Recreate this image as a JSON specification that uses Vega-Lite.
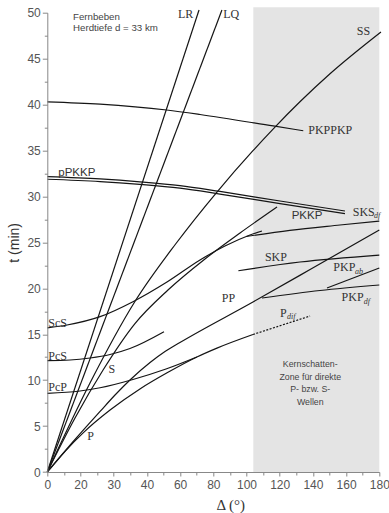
{
  "$schema": "https://vega.github.io/schema/vega-lite/v6.json",
  "width": 332,
  "height": 459.3,
  "autosize": {"type": "none"},
  "padding": {"left": 47.3, "top": 12.7, "right": 9.7, "bottom": 41},
  "background": "white",
  "config": {"view": {"stroke": null}, "axis": {"grid": false}},
  "datasets": {
    "zone": [{"x": 104.1, "x2": 180, "t": 0, "t2": 50.6}],
    "curves": [
      {"curve": "LR", "x": 0, "t": 0}, {"curve": "LR", "x": 71.4, "t": 50.3},
      {"curve": "LQ", "x": 0, "t": 0}, {"curve": "LQ", "x": 85.2, "t": 50.3},
      {"curve": "SS", "x": 0, "t": 0}, {"curve": "SS", "x": 22.86, "t": 9.69}, {"curve": "SS", "x": 36.3, "t": 18.51}, {"curve": "SS", "x": 57.3, "t": 24.82}, {"curve": "SS", "x": 82.2, "t": 30.48}, {"curve": "SS", "x": 103.9, "t": 34.98}, {"curve": "SS", "x": 116.0, "t": 37.33}, {"curve": "SS", "x": 132.2, "t": 40.3}, {"curve": "SS", "x": 150.3, "t": 43.35}, {"curve": "SS", "x": 181, "t": 47.9},
      {"curve": "S", "x": 0, "t": 0}, {"curve": "S", "x": 16.7, "t": 5.88}, {"curve": "S", "x": 26.8, "t": 11.1}, {"curve": "S", "x": 36.4, "t": 16.15}, {"curve": "S", "x": 52.7, "t": 19.81}, {"curve": "S", "x": 75.0, "t": 23.19}, {"curve": "S", "x": 96.1, "t": 26.02}, {"curve": "S", "x": 118.4, "t": 28.85},
      {"curve": "ScS", "x": 0, "t": 15.68}, {"curve": "ScS", "x": 11.9, "t": 16.0}, {"curve": "ScS", "x": 25.9, "t": 16.91}, {"curve": "ScS", "x": 35.8, "t": 18.54}, {"curve": "ScS", "x": 52.1, "t": 20.68}, {"curve": "ScS", "x": 72.0, "t": 23.08}, {"curve": "ScS", "x": 87.0, "t": 24.6}, {"curve": "ScS", "x": 102.1, "t": 25.8}, {"curve": "ScS", "x": 109.3, "t": 26.24},
      {"curve": "SKSdf", "x": 99.7, "t": 25.64}, {"curve": "SKSdf", "x": 126.1, "t": 26.31}, {"curve": "SKSdf", "x": 156.3, "t": 26.89}, {"curve": "SKSdf", "x": 180, "t": 27.32},
      {"curve": "PcS", "x": 0, "t": 12.12}, {"curve": "PcS", "x": 13.7, "t": 12.19}, {"curve": "PcS", "x": 22.9, "t": 12.41}, {"curve": "PcS", "x": 28.9, "t": 12.79}, {"curve": "PcS", "x": 34.9, "t": 13.44}, {"curve": "PcS", "x": 50.3, "t": 15.27},
      {"curve": "PcP", "x": 0, "t": 8.57}, {"curve": "PcP", "x": 19.7, "t": 8.82}, {"curve": "PcP", "x": 25.9, "t": 9.17}, {"curve": "PcP", "x": 35.8, "t": 10.07}, {"curve": "PcP", "x": 51.5, "t": 11.21}, {"curve": "PcP", "x": 70.1, "t": 12.52},
      {"curve": "P", "x": 0, "t": 0}, {"curve": "P", "x": 10.84, "t": 2.28}, {"curve": "P", "x": 20.8, "t": 4.26}, {"curve": "P", "x": 28.9, "t": 6.74}, {"curve": "P", "x": 37.9, "t": 9.04}, {"curve": "P", "x": 52.7, "t": 10.85}, {"curve": "P", "x": 70.1, "t": 12.52}, {"curve": "P", "x": 82.2, "t": 13.49}, {"curve": "P", "x": 103.9, "t": 14.97},
      {"curve": "Pdif", "x": 103.9, "t": 14.97}, {"curve": "Pdif", "x": 138.3, "t": 16.98},
      {"curve": "PP", "x": 0, "t": 0}, {"curve": "PP", "x": 16.7, "t": 3.54}, {"curve": "PP", "x": 25.9, "t": 6.59}, {"curve": "PP", "x": 30.4, "t": 8.38}, {"curve": "PP", "x": 34.9, "t": 10.02}, {"curve": "PP", "x": 41.9, "t": 11.92}, {"curve": "PP", "x": 50.9, "t": 13.12}, {"curve": "PP", "x": 59.9, "t": 14.1}, {"curve": "PP", "x": 103.9, "t": 18.51}, {"curve": "PP", "x": 138.3, "t": 22.04}, {"curve": "PP", "x": 180, "t": 26.35},
      {"curve": "SKP", "x": 95.1, "t": 21.91}, {"curve": "SKP", "x": 132.2, "t": 22.86}, {"curve": "SKP", "x": 180, "t": 23.62},
      {"curve": "PKPdf", "x": 109.3, "t": 18.94}, {"curve": "PKPdf", "x": 144.3, "t": 19.76}, {"curve": "PKPdf", "x": 180, "t": 20.36},
      {"curve": "PKPab", "x": 148.5, "t": 20.03}, {"curve": "PKPab", "x": 180, "t": 22.21},
      {"curve": "pPKKP", "x": 0, "t": 32.15}, {"curve": "pPKKP", "x": 25.9, "t": 31.9}, {"curve": "pPKKP", "x": 37.9, "t": 31.59}, {"curve": "pPKKP", "x": 59.9, "t": 31.18}, {"curve": "pPKKP", "x": 84.0, "t": 30.54}, {"curve": "pPKKP", "x": 120.2, "t": 29.5}, {"curve": "pPKKP", "x": 159.3, "t": 28.41},
      {"curve": "PKKP", "x": 0, "t": 31.87}, {"curve": "PKKP", "x": 25.9, "t": 31.62}, {"curve": "PKKP", "x": 37.9, "t": 31.31}, {"curve": "PKKP", "x": 59.9, "t": 30.9}, {"curve": "PKKP", "x": 84.0, "t": 30.26}, {"curve": "PKKP", "x": 120.2, "t": 29.22}, {"curve": "PKKP", "x": 159.3, "t": 28.13},
      {"curve": "PKPPKP", "x": 0, "t": 40.3}, {"curve": "PKPPKP", "x": 25.9, "t": 40.05}, {"curve": "PKPPKP", "x": 51.9, "t": 39.41}, {"curve": "PKPPKP", "x": 72.0, "t": 38.92}, {"curve": "PKPPKP", "x": 116.1, "t": 37.67}, {"curve": "PKPPKP", "x": 134.2, "t": 37.15}
    ],
    "serifLabels": [
      {"label": "LR", "x": 58.7, "t": 49.85}, {"label": "LQ", "x": 86.0, "t": 49.85},
      {"label": "SS", "x": 166.4, "t": 48.0}, {"label": "PKPPKP", "x": 137.2, "t": 37.23},
      {"label": "ScS", "x": 0.6, "t": 16.17}, {"label": "PcS", "x": 0.6, "t": 12.65}, {"label": "PcP", "x": 0.6, "t": 9.2},
      {"label": "S", "x": 28.4, "t": 11.19}, {"label": "P", "x": 22.05, "t": 3.97}, {"label": "PP", "x": 85.1, "t": 18.9},
      {"label": "SKP", "x": 111.1, "t": 23.4}, {"label": "SKS", "x": 164.0, "t": 28.3},
      {"label": "PKP", "x": 152.3, "t": 22.3}, {"label": "PKP", "x": 157.3, "t": 19.0}, {"label": "P", "x": 120.2, "t": 17.3}
    ],
    "subLabels": [
      {"label": "df", "x": 176.8, "t": 27.87}, {"label": "ab", "x": 165.4, "t": 21.75},
      {"label": "df", "x": 170.6, "t": 18.54}, {"label": "dif", "x": 124.4, "t": 16.9}
    ],
    "sansLabels": [
      {"label": "pPKKP", "x": 6.63, "t": 32.6}, {"label": "PKKP", "x": 127.2, "t": 27.89}
    ],
    "notes": [
      {"label": "Fernbeben", "x": 15.5, "t": 49.56}, {"label": "Herdtiefe d = 33 km", "x": 15.5, "t": 48.3}
    ],
    "zoneNotes": [
      {"label": "Kernschatten-", "x": 138.4, "t": 11.76}, {"label": "Zone für direkte", "x": 138.4, "t": 10.37},
      {"label": "P- bzw. S-", "x": 138.4, "t": 9.0}, {"label": "Wellen", "x": 138.4, "t": 7.65}
    ]
  },
  "encoding": {
    "x": {"field": "x", "type": "quantitative", "scale": {"domain": [0, 20, 30, 40, 60, 80, 100, 120, 140, 160, 180], "range": [0, 33.2, 66.4, 99.6, 132.8, 166, 199.2, 232.4, 265.6, 298.8, 332], "nice": false, "zero": false}, "axis": null},
    "y": {"field": "t", "type": "quantitative", "scale": {"domain": [0, 50], "nice": false, "zero": false}, "axis": null}
  },
  "layer": [
    {
      "data": {"name": "zone"},
      "mark": {"type": "rect", "color": "#e4e4e4"},
      "encoding": {
        "x": {"field": "x", "type": "quantitative", "scale": {"domain": [0, 20, 30, 40, 60, 80, 100, 120, 140, 160, 180], "range": [0, 33.2, 66.4, 99.6, 132.8, 166, 199.2, 232.4, 265.6, 298.8, 332], "nice": false, "zero": false},
          "axis": {"orient": "bottom", "values": [0, 20, 30, 40, 60, 80, 100, 120, 140, 160, 180], "title": "Δ (°)", "titleFont": "Liberation Serif", "titleFontSize": 15, "titleFontWeight": "normal", "titleColor": "#333", "titleX": 183, "titleY": 32, "titleBaseline": "middle", "titleAlign": "center", "labelFont": "Liberation Sans", "labelFontSize": 12, "labelColor": "#555", "labelPadding": 3, "tickSize": 4, "tickColor": "#888", "domainColor": "#888", "labelFlush": false, "labelOverlap": false, "zindex": 1}},
        "x2": {"field": "x2"},
        "y": {"field": "t", "type": "quantitative", "scale": {"domain": [0, 50], "nice": false, "zero": false},
          "axis": {"orient": "left", "values": [0, 5, 10, 15, 20, 25, 30, 35, 40, 45, 50], "title": "t (min)", "titleFont": "Liberation Sans", "titleFontSize": 14, "titleFontWeight": "normal", "titleColor": "#333", "titlePadding": 5, "labelFont": "Liberation Sans", "labelFontSize": 12, "labelColor": "#555", "labelPadding": 2, "tickSize": 5, "tickColor": "#888", "domainColor": "#888", "labelFlush": false, "labelOverlap": false, "zindex": 1}},
        "y2": {"field": "t2"}
      }
    },
    {
      "data": {"name": "zone"},
      "mark": {"type": "point", "opacity": 0},
      "encoding": {
        "x": {"field": "x", "type": "quantitative", "scale": {"domain": [0, 20, 30, 40, 60, 80, 100, 120, 140, 160, 180], "range": [0, 33.2, 66.4, 99.6, 132.8, 166, 199.2, 232.4, 265.6, 298.8, 332], "nice": false, "zero": false},
          "axis": {"orient": "bottom", "values": [10, 25, 35, 50, 70, 90, 110, 130, 150, 170], "labels": false, "domain": false, "title": null, "tickSize": 3, "tickColor": "#888", "zindex": 1}},
        "y": {"field": "t", "type": "quantitative", "scale": {"domain": [0, 50], "nice": false, "zero": false},
          "axis": {"orient": "left", "values": [2.5, 7.5, 12.5, 17.5, 22.5, 27.5, 32.5, 37.5, 42.5, 47.5], "labels": false, "domain": false, "title": null, "tickSize": 3, "tickColor": "#888", "zindex": 1}}
      }
    },
    {
      "data": {"name": "curves"},
      "transform": [{"filter": "datum.curve !== 'Pdif'"}],
      "mark": {"type": "line", "color": "#151515", "strokeWidth": 1.2, "interpolate": "monotone"},
      "encoding": {"detail": {"field": "curve"}}
    },
    {
      "data": {"name": "curves"},
      "transform": [{"filter": "datum.curve === 'Pdif'"}],
      "mark": {"type": "line", "color": "#151515", "strokeWidth": 1.2, "strokeDash": [2, 1.5]},
      "encoding": {"detail": {"field": "curve"}}
    },
    {
      "data": {"name": "serifLabels"},
      "mark": {"type": "text", "font": "Liberation Serif", "fontSize": 12, "color": "#333", "align": "left", "baseline": "middle"},
      "encoding": {"text": {"field": "label"}}
    },
    {
      "data": {"name": "subLabels"},
      "mark": {"type": "text", "font": "Liberation Serif", "fontSize": 8, "fontStyle": "italic", "color": "#333", "align": "left", "baseline": "middle"},
      "encoding": {"text": {"field": "label"}}
    },
    {
      "data": {"name": "sansLabels"},
      "mark": {"type": "text", "font": "Liberation Sans", "fontSize": 11.5, "color": "#333", "align": "left", "baseline": "middle"},
      "encoding": {"text": {"field": "label"}}
    },
    {
      "data": {"name": "notes"},
      "mark": {"type": "text", "font": "Liberation Sans", "fontSize": 9.7, "color": "#444", "align": "left", "baseline": "middle"},
      "encoding": {"text": {"field": "label"}}
    },
    {
      "data": {"name": "zoneNotes"},
      "mark": {"type": "text", "font": "Liberation Sans", "fontSize": 8.8, "color": "#444", "align": "center", "baseline": "middle"},
      "encoding": {"text": {"field": "label"}}
    }
  ],
  "resolve": {"axis": {"x": "independent", "y": "independent"}}
}
